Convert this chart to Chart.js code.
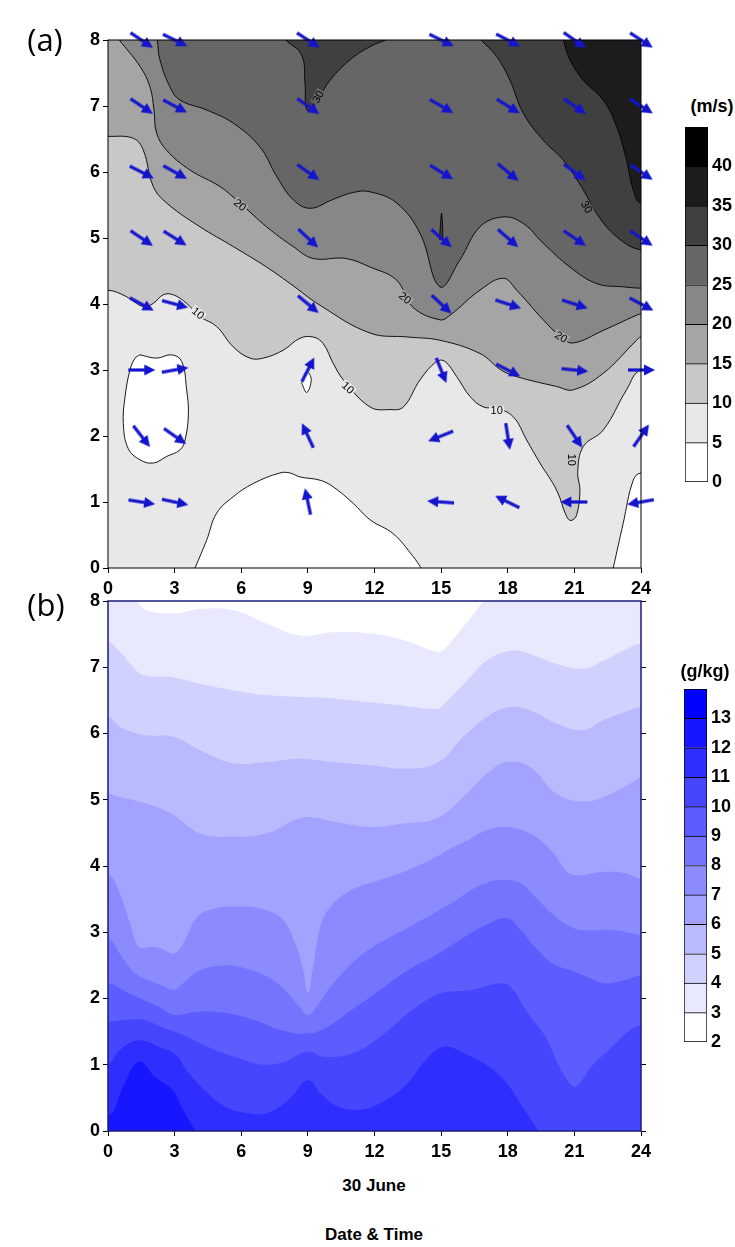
<!DOCTYPE html>
<html><head><meta charset="utf-8">
<script src="https://cdn.jsdelivr.net/npm/chart.js@4.4.1/dist/chart.umd.min.js"></script>
<style>
body{margin:0;background:#fff;width:735px;height:1247px;position:relative;overflow:hidden;font-family:'Liberation Sans',Arial,sans-serif;}
canvas{position:absolute;}
.t{position:absolute;white-space:nowrap;line-height:1;color:#000;transform:translate(-50%,-50%);}
.b{font-weight:bold;font-size:18px;}
.p{font-family:'Open Sans','Noto Sans',sans-serif;font-size:31px;}
</style></head><body>
<canvas id="ca" width="680" height="610" style="left:0;top:0;width:680px;height:610px"></canvas>
<canvas id="cb" width="680" height="590" style="left:0;top:580px;width:680px;height:590px"></canvas>
<canvas id="cba" width="50" height="375" style="left:685px;top:117px;width:50px;height:375px"></canvas>
<canvas id="cbb" width="51" height="373" style="left:684px;top:679px;width:51px;height:373px"></canvas>
<div class="t p" style="left:45px;top:39px">(a)</div>
<div class="t p" style="left:46px;top:604px">(b)</div>
<div class="t b" style="left:712px;top:106px">(m/s)</div>
<div class="t b" style="left:705px;top:671px">(g/kg)</div>
<div class="t b" style="left:374px;top:1185px;font-size:17px">30 June</div>
<div class="t b" style="left:374px;top:1234px;font-size:17px">Date &amp; Time</div>
<script>
// ---------------- DATA ----------------
// (a) wind speed (m/s): contour lines as [hour, height km]
const wsLevels = [0,5,10,15,20,25,30,35,40,45];
const wsGreys  = [255,232,200,165,135,102,64,28,0];
const ws5Loop   = [[1.44,3.23],[2.19,3.18],[2.87,3.23],[3.32,3.13],[3.54,2.7],[3.62,2.34],[3.47,1.94],[3.24,1.79],[2.64,1.69],[2.04,1.59],[1.44,1.64],[0.91,1.81],[0.69,2.19],[0.77,2.6],[0.99,3.0],[1.22,3.18],[1.44,3.23]];
const ws5Sliver = [[8.72,2.8],[8.95,2.97],[9.15,2.86],[8.95,2.66],[8.72,2.8]];
const ws5Bottom = [[3.92,0],[4.44,0.42],[4.89,0.83],[5.64,1.08],[6.54,1.28],[7.74,1.44],[8.19,1.44],[8.64,1.38],[9.55,1.33],[10.14,1.23],[11.04,0.98],[11.8,0.73],[12.84,0.52],[13.75,0.17],[14.1,0]];
const ws5Right  = [[22.75,0],[23.2,0.68],[23.65,1.33],[24,1.44]];
const ws10 = [[0,4.21],[0.84,4.11],[1.59,3.96],[2.04,4.01],[2.49,4.14],[2.94,4.14],[3.54,4.01],[4.14,3.81],[4.89,3.66],[5.64,3.35],[6.39,3.18],[6.99,3.18],[7.89,3.3],[8.64,3.48],[9.24,3.5],[9.69,3.4],[10.14,3.1],[10.6,2.85],[11.8,2.44],[12.7,2.4],[13.3,2.44],[14.05,2.85],[14.8,3.13],[15.17,3.13],[15.7,2.9],[16.3,2.6],[16.9,2.44],[17.5,2.42],[18.25,2.29],[18.85,1.94],[19.45,1.59],[20.2,1.18],[20.65,0.78],[20.85,0.72],[21.1,0.8],[21.25,1.18],[21.15,1.45],[21.4,1.84],[22.3,2.09],[23.35,2.7],[24,3.0]];
const ws15 = [[0,6.54],[1.14,6.51],[1.59,6.33],[2.04,5.78],[2.64,5.53],[4.14,5.17],[5.64,4.87],[7.14,4.56],[8.2,4.31],[9.55,3.98],[11.8,3.56],[13.5,3.5],[14.95,3.45],[16.75,3.25],[17.7,3.0],[18.4,2.9],[20.2,2.75],[20.95,2.7],[22.3,2.95],[23.8,3.45],[24,3.5]];
const ws20 = [[0.51,8],[1.44,7.6],[1.89,7.29],[2.07,6.94],[2.19,6.59],[2.64,6.33],[3.69,6.03],[5.04,5.78],[5.94,5.53],[7.14,5.17],[8.34,4.87],[9.24,4.69],[10.7,4.69],[11.8,4.56],[13.0,4.36],[13.7,3.96],[14.95,3.76],[15.4,3.83],[16.75,4.21],[17.8,4.39],[18.4,4.21],[19.6,3.76],[20.4,3.5],[20.95,3.41],[22.3,3.6],[23.8,3.83],[24,3.85]];
const ws25 = [[2.22,8],[2.34,7.7],[2.79,7.29],[3.24,7.09],[4.44,6.94],[5.64,6.74],[6.84,6.38],[7.6,5.93],[8.34,5.58],[9.1,5.45],[10.1,5.58],[11.04,5.69],[11.8,5.7],[13.0,5.53],[14.05,5.07],[14.95,4.26],[15.85,4.67],[16.75,5.17],[17.8,5.32],[18.7,5.22],[19.6,4.92],[20.8,4.56],[22.0,4.31],[23.2,4.26],[24,4.24]];
const ws30a = [[8.0,8],[8.72,7.77],[8.87,7.34],[8.95,6.94],[9.25,7.0],[10.0,7.39],[10.9,7.7],[11.8,7.9],[12.5,8]];
const ws30b = [[16.8,8],[17.5,7.75],[18.1,7.39],[18.7,6.89],[19.6,6.48],[20.5,6.18],[21.4,5.73],[22.0,5.37],[22.9,5.02],[24,4.82]];
const ws30Spike = [[14.93,4.98],[14.97,5.2],[15.02,5.38],[15.07,5.15],[15.06,4.98],[14.93,4.98]];
const ws35 = [[20.5,8],[20.8,7.7],[21.4,7.39],[22.3,7.09],[22.9,6.69],[23.35,6.18],[23.65,5.73],[24,5.53]];
// contour labels: [text, hour, height, angle deg]
const wsLabels = [['30',9.46,7.14,-62],['20',5.94,5.5,40],['10',4.05,3.86,40],['10',10.8,2.73,42],['20',13.37,4.09,40],['10',17.5,2.38,0],['20',20.4,3.5,32],['30',21.55,5.47,60],['10',20.88,1.64,90]];
// wind direction arrows (screen angle, deg CCW from east)
const arrowHours = [1.5,3,9,15,18,21,24];
const arrowHeights = [1,2,3,4,5,6,7,8];
const arrowDir = [
  [-9,-52,0,-28,-34,-27,-34,-34],
  [-12,-35,10,-15,-32,-29,-28,-26],
  [102,115,63,-40,-43,-35,-35,-33],
  [176,-158,-68,-43,-41,-31,-30,-26],
  [154,-81,-27,-18,-41,-40,-32,-27],
  [180,-56,-6,-18,-34,-36,-34,-35],
  [190,55,0,-28,-34,-34,-32,-33]
];
// (b) mixing ratio (g/kg) boundaries
const qLevels = [2,3,4,5,6,7,8,9,10,11,12,13,14];
const qShades = [255,232,209,185,162,139,116,93,70,46,23,0];
const q3  = [[1.29,8],[1.74,7.86],[2.94,7.81],[4.14,7.88],[5.64,7.86],[7.14,7.66],[8.64,7.48],[10.14,7.53],[11.8,7.51],[13.3,7.41],[14.8,7.23],[15.1,7.26],[16.0,7.61],[16.75,7.93],[16.9,8]];
const q4  = [[0,7.38],[0.54,7.23],[1.14,7.0],[1.59,6.88],[2.94,6.85],[4.14,6.75],[5.64,6.65],[7.14,6.58],[8.64,6.55],[10.14,6.53],[11.8,6.47],[13.3,6.42],[14.8,6.37],[15.1,6.43],[16.3,6.85],[17.05,7.1],[18.1,7.25],[19.0,7.2],[20.2,7.05],[21.4,6.98],[22.3,7.1],[23.5,7.3],[24,7.35]];
const q5  = [[0,6.25],[0.54,6.1],[1.14,6.02],[1.74,5.97],[2.94,5.95],[4.14,5.75],[5.64,5.55],[7.14,5.57],[8.64,5.62],[10.14,5.57],[11.8,5.52],[13.3,5.47],[14.8,5.55],[16.0,5.95],[17.05,6.25],[18.1,6.4],[19.0,6.35],[20.2,6.15],[21.4,6.05],[22.3,6.2],[23.5,6.35],[24,6.4]];
const q6  = [[0,5.09],[0.54,5.04],[1.44,4.97],[2.34,4.87],[3.09,4.74],[4.14,4.49],[5.64,4.44],[7.14,4.49],[8.64,4.72],[9.39,4.73],[10.14,4.67],[11.8,4.59],[13.3,4.64],[14.8,4.72],[16.0,5.04],[17.05,5.39],[17.95,5.57],[19.0,5.5],[20.2,5.09],[21.4,4.97],[22.3,5.04],[23.5,5.24],[24,5.34]];
const q7  = [[0,3.86],[0.52,3.59],[1.0,3.13],[1.39,2.78],[1.95,2.78],[2.35,2.76],[2.98,2.68],[3.38,2.83],[4.01,3.23],[4.8,3.36],[5.91,3.39],[6.86,3.36],[7.81,3.21],[8.37,2.88],[8.76,2.48],[9.0,2.08],[9.24,2.48],[9.56,3.08],[10.03,3.39],[10.98,3.64],[12.25,3.79],[13.52,3.94],[14.79,4.14],[15.58,4.29],[16.2,4.39],[17.05,4.54],[17.95,4.59],[19.0,4.49],[20.0,4.22],[20.65,3.92],[21.1,3.86],[22.3,3.91],[23.3,3.89],[24,3.81]];
const q8  = [[0,2.91],[0.52,2.68],[1.16,2.4],[1.79,2.28],[2.42,2.2],[2.98,2.13],[3.38,2.23],[4.17,2.43],[5.28,2.5],[6.23,2.45],[7.18,2.33],[7.97,2.13],[8.61,1.88],[9.0,1.75],[9.4,1.88],[10.03,2.18],[10.98,2.53],[11.93,2.78],[12.88,2.96],[13.84,3.13],[14.79,3.31],[15.58,3.46],[16.37,3.64],[17.16,3.76],[17.96,3.79],[18.59,3.74],[19.22,3.54],[20.0,3.28],[20.96,3.06],[21.76,3.03],[22.87,3.03],[24,2.96]];
const q9  = [[0,2.23],[0.84,2.1],[1.79,1.95],[2.42,1.85],[2.98,1.75],[4.01,1.8],[5.28,1.78],[6.55,1.68],[7.81,1.52],[9.0,1.47],[9.87,1.57],[10.98,1.83],[12.25,2.13],[13.52,2.43],[14.79,2.66],[16.05,2.93],[17.0,3.11],[17.96,3.21],[18.59,3.03],[19.22,2.78],[20.0,2.53],[20.8,2.43],[21.76,2.3],[22.4,2.23],[23.3,2.28],[24,2.35]];
const q10 = [[0,1.65],[0.84,1.68],[1.63,1.68],[2.42,1.57],[3.38,1.45],[4.64,1.25],[5.91,1.1],[7.02,1.0],[7.97,1.05],[9.0,1.2],[9.71,1.12],[10.98,1.17],[12.25,1.42],[13.52,1.78],[14.63,2.03],[15.26,2.1],[16.37,2.13],[17.64,2.23],[18.11,2.18],[18.9,1.78],[19.7,1.42],[20.33,0.97],[20.8,0.72],[21.1,0.67],[21.76,0.97],[22.71,1.27],[23.5,1.52],[24,1.6]];
const q11 = [[0,1.02],[0.52,1.22],[1.39,1.37],[2.42,1.25],[3.06,1.15],[3.53,0.92],[4.33,0.62],[5.28,0.37],[6.23,0.27],[7.18,0.27],[8.13,0.47],[9.0,0.77],[9.56,0.57],[10.35,0.37],[11.3,0.32],[12.25,0.42],[13.36,0.67],[14.31,1.07],[15.1,1.27],[16.05,1.17],[17.16,0.97],[17.96,0.72],[18.75,0.32],[19.38,0]];
const q12 = [[0,0.22],[0.68,0.67],[1.39,1.05],[2.1,0.82],[2.9,0.62],[3.38,0.32],[3.93,0]];

// ---------------- HELPERS ----------------
const FONT = "'Liberation Sans', Arial, sans-serif";
const axisFont = {family: FONT, size: 18, weight: 'bold'};
const grey = v => `rgb(${v},${v},${v})`;
const blue = v => `rgb(${v},${v},255)`;
function outward(pe, pn) {
  if (pe[0] <= 0) return [-2, pe[1]];
  if (pe[0] >= 24) return [26, pe[1]];
  const dx = pe[0] - pn[0], dz = pe[1] - pn[1];
  const s = 0.4 / Math.max(Math.abs(dz), 0.05);
  return [pe[0] + dx * s, pe[1] + dz * s];
}
function region(curve, side) {
  const n = curve.length;
  const a = outward(curve[0], curve[1]);
  const b = outward(curve[n - 1], curve[n - 2]);
  let pts;
  if (side > 0) {
    pts = [a, ...curve, b];
    if (b[1] < 0) pts.push([26, -3]);
    pts.push([26, 11], [a[0], 11]);
  } else {
    pts = [a, ...curve, b, [b[0], -3], [a[0], -3]];
  }
  return pts.map(p => ({x: p[0], y: p[1]}));
}
const loop = c => c.map(p => ({x: p[0], y: p[1]}));
function shapeSet(data, color, border) {
  return {type: 'line', data, fill: 'shape', backgroundColor: color,
    borderColor: '#000', borderWidth: border ? 0.9 : 0, pointRadius: 0, tension: 0.4};
}
function fixAxis(size, dim) {
  return s => { s[dim] = size; s.paddingLeft = 0; s.paddingRight = 0; s.paddingTop = 0; s.paddingBottom = 0; };
}
function xAxis(h) {
  return {type: 'linear', min: 0, max: 24, position: 'bottom',
    ticks: {stepSize: 3, autoSkip: false, maxRotation: 0, font: axisFont, color: '#000', padding: 5},
    grid: {drawOnChartArea: false, drawTicks: true, tickLength: 5, color: '#000'},
    border: {display: false}, afterFit: fixAxis(h, 'height')};
}
function yAxis(pos, w, showLabels) {
  return {type: 'linear', min: 0, max: 8, position: pos,
    ticks: {stepSize: 1, display: showLabels, font: axisFont, color: '#000', padding: 3},
    grid: {drawOnChartArea: false, drawTicks: true, tickLength: 5, color: '#000'},
    border: {display: false}, afterFit: fixAxis(w, 'width')};
}
function ordered(sets) { const n = sets.length; sets.forEach((s, i) => s.order = n - i); return sets; }
const bgPlugin = {id: 'bg', beforeDatasetsDraw(chart, a, o) {
  if (!o.color) return;
  const {ctx, chartArea: c} = chart; ctx.save(); ctx.fillStyle = o.color;
  ctx.fillRect(c.left, c.top, c.right - c.left, c.bottom - c.top); ctx.restore(); }};
const framePlugin = {id: 'frame', afterDatasetsDraw(chart, a, o) {
  if (!o.color) return;
  const {ctx, chartArea: c} = chart; ctx.save(); ctx.strokeStyle = o.color; ctx.lineWidth = o.width;
  ctx.strokeRect(c.left, c.top, c.right - c.left, c.bottom - c.top); ctx.restore(); }};
const labelPlugin = {id: 'clabels', afterDatasetsDraw(chart, a, o) {
  if (!o.items) return;
  const {ctx} = chart, xs = chart.scales.x, ys = chart.scales.y;
  ctx.save();
  ctx.font = "11px " + FONT; ctx.textAlign = 'center'; ctx.textBaseline = 'middle';
  for (const [t, h, z, ang] of o.items) {
    const px = xs.getPixelForValue(h), py = ys.getPixelForValue(z);
    const r = ang * Math.PI / 180;
    const sx = Math.round(px - Math.sin(r) * 7), sy = Math.round(py + Math.cos(r) * 7);
    const d = ctx.getImageData(sx, sy, 1, 1).data;
    ctx.save(); ctx.translate(px, py); ctx.rotate(r);
    const w = ctx.measureText(t).width + 3;
    ctx.fillStyle = `rgb(${d[0]},${d[1]},${d[2]})`;
    ctx.fillRect(-w / 2, -5, w, 10);
    ctx.fillStyle = '#000'; ctx.fillText(t, 0, 0.5);
    ctx.restore();
  }
  ctx.restore(); }};
Chart.register(bgPlugin, framePlugin, labelPlugin);

// arrow glyph
const arrowImg = document.createElement('canvas');
arrowImg.width = 30; arrowImg.height = 14;
(() => { const g = arrowImg.getContext('2d'); g.strokeStyle = g.fillStyle = '#1414cc';
  g.lineWidth = 3.2; g.beginPath(); g.moveTo(2, 7); g.lineTo(20, 7); g.stroke();
  g.beginPath(); g.moveTo(18, 1.5); g.lineTo(29, 7); g.lineTo(18, 12.5); g.closePath(); g.fill(); })();
const arrowPts = [], arrowRot = [];
arrowHours.forEach((h, i) => arrowHeights.forEach((z, j) => { arrowPts.push({x: h, y: z}); arrowRot.push(-arrowDir[i][j]); }));

// ---------------- CHART (a) ----------------
const setsA = ordered([
  shapeSet(loop(ws5Loop), grey(wsGreys[0]), true),
  shapeSet(loop(ws5Sliver), grey(wsGreys[0]), true),
  shapeSet(region(ws5Bottom, -1), grey(wsGreys[0]), true),
  shapeSet(region(ws5Right, -1), grey(wsGreys[0]), true),
  shapeSet(region(ws10, 1), grey(wsGreys[2]), true),
  shapeSet(region(ws15, 1), grey(wsGreys[3]), true),
  shapeSet(region(ws20, 1), grey(wsGreys[4]), true),
  shapeSet(region(ws25, 1), grey(wsGreys[5]), true),
  shapeSet(region(ws30a, 1), grey(wsGreys[6]), true),
  shapeSet(region(ws30b, 1), grey(wsGreys[6]), true),
  Object.assign(shapeSet(loop(ws30Spike), grey(wsGreys[6]), true), {tension: 0.2}),
  shapeSet(region(ws35, 1), grey(wsGreys[7]), true),
  {type: 'scatter', data: arrowPts, pointStyle: arrowImg, pointRotation: arrowRot, pointRadius: 10, clip: false, showLine: false}
]);
new Chart(document.getElementById('ca'), {
  type: 'line', data: {datasets: setsA},
  options: {animation: false, responsive: false, events: [], devicePixelRatio: 1,
    elements: {line: {capBezierPoints: false}},
    layout: {padding: {left: 0, right: 39, top: 40, bottom: 0}},
    plugins: {legend: {display: false}, tooltip: {enabled: false},
      bg: {color: grey(wsGreys[1])}, frame: {color: '#000', width: 1}, clabels: {items: wsLabels}},
    scales: {x: xAxis(42), y: yAxis('left', 108, true)}}
});

// ---------------- CHART (b) ----------------
const setsB = ordered([
  shapeSet(region(q12, -1), blue(qShades[10]), false),
  shapeSet(region(q11, 1), blue(qShades[8]), false),
  shapeSet(region(q10, 1), blue(qShades[7]), false),
  shapeSet(region(q9, 1), blue(qShades[6]), false),
  shapeSet(region(q8, 1), blue(qShades[5]), false),
  shapeSet(region(q7, 1), blue(qShades[4]), false),
  shapeSet(region(q6, 1), blue(qShades[3]), false),
  shapeSet(region(q5, 1), blue(qShades[2]), false),
  shapeSet(region(q4, 1), blue(qShades[1]), false),
  shapeSet(region(q3, 1), blue(qShades[0]), false)
]);
new Chart(document.getElementById('cb'), {
  type: 'line', data: {datasets: setsB},
  options: {animation: false, responsive: false, events: [], devicePixelRatio: 1,
    elements: {line: {capBezierPoints: false}},
    layout: {padding: {left: 0, right: 0, top: 21, bottom: 0}},
    plugins: {legend: {display: false}, tooltip: {enabled: false},
      bg: {color: blue(qShades[9])}, frame: {color: '#1c1c78', width: 1.5}},
    scales: {x: xAxis(39), y: yAxis('left', 108, true), y2: yAxis('right', 39, false)}}
});

// ---------------- COLORBARS ----------------
function colorbar(id, levels, colors, w) {
  const max = levels[levels.length - 1];
  const datasets = colors.map((c, i) => ({data: [[levels[i], levels[i + 1]]], backgroundColor: c,
    borderColor: '#000', borderWidth: {top: 1, left: 1, right: 1, bottom: i === 0 ? 1 : 0},
    borderSkipped: false, grouped: false, barPercentage: 1, categoryPercentage: 1}));
  new Chart(document.getElementById(id), {
    type: 'bar', data: {labels: [''], datasets},
    options: {animation: false, responsive: false, events: [], devicePixelRatio: 1,
      layout: {padding: {top: 10, bottom: 10, left: 0, right: 0}},
      plugins: {legend: {display: false}, tooltip: {enabled: false}},
      scales: {x: {display: false},
        y: {position: 'right', min: levels[0], max, afterBuildTicks: s => { s.ticks = levels.slice(0, -1).map(v => ({value: v})); },
          ticks: {font: axisFont, color: '#000', padding: 4},
          grid: {display: false, drawTicks: false, tickLength: 0}, border: {display: false}, afterFit: fixAxis(w, 'width')}}}
  });
}
colorbar('cba', wsLevels, wsGreys.map(grey), 27);
colorbar('cbb', qLevels, qShades.map(blue), 28);
</script>
</body></html>
